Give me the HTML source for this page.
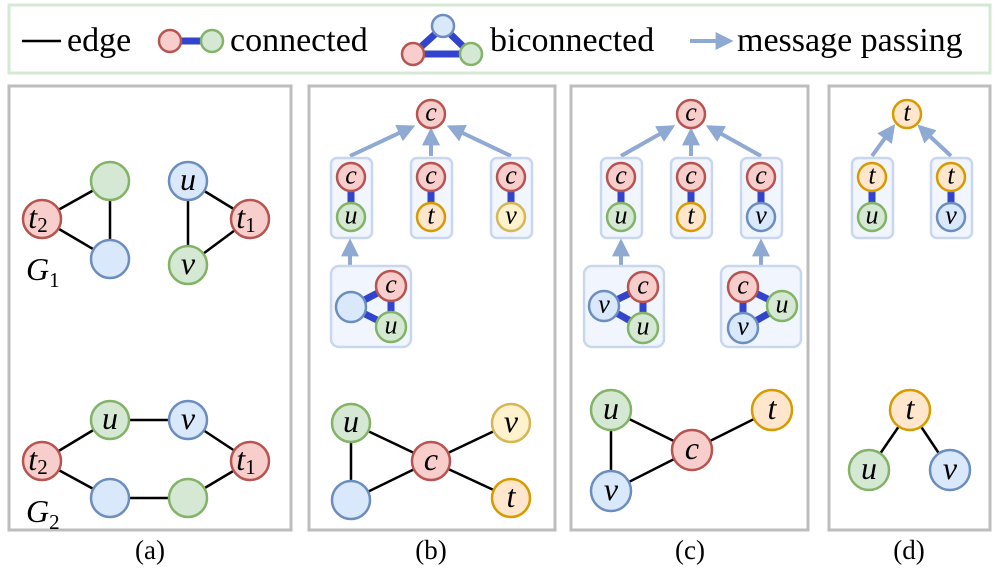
<!DOCTYPE html>
<html><head><meta charset="utf-8"><style>
html,body{margin:0;padding:0;background:#fff}
svg{display:block}
text{font-family:"Liberation Serif",serif}
.m{font-style:italic;text-anchor:middle;dominant-baseline:central}
</style></head><body>
<svg width="997" height="573" viewBox="0 0 997 573" xmlns="http://www.w3.org/2000/svg">
<defs>
<marker id="ah" viewBox="0 0 10 10" refX="8" refY="5" markerWidth="4.5" markerHeight="4.5" orient="auto" markerUnits="strokeWidth">
<path d="M0,0 L10,5 L0,10 z" fill="#8ea9d2"/></marker>
</defs>
<style>
.r{fill:#f8cecc;stroke:#b85450;stroke-width:2.5}
.g{fill:#d5e8d4;stroke:#82b366;stroke-width:2.5}
.b{fill:#dae8fc;stroke:#6c8ebf;stroke-width:2.5}
.o{fill:#ffe6cc;stroke:#d79b00;stroke-width:2.5}
.y{fill:#fff2cc;stroke:#d6b656;stroke-width:2.5}
.e{stroke:#000;stroke-width:2.5}
.be{stroke:#3344cc;stroke-width:7}
.ar{stroke:#8ea9d2;stroke-width:4;marker-end:url(#ah)}
.bx{fill:#f1f5fd;stroke:#c9d7ee;stroke-width:2.5}
.pn{fill:none;stroke:#bdbdbd;stroke-width:3}
</style>
<!-- legend -->
<rect x="9" y="5" width="981" height="68" fill="#fff" stroke="#d5e8d4" stroke-width="3"/>
<line x1="22" y1="41" x2="61" y2="41" class="e"/>
<text x="67" y="51" font-size="34">edge</text>
<line x1="170" y1="41" x2="212" y2="41" class="be"/>
<circle cx="170" cy="41" r="11" class="r"/><circle cx="212" cy="41" r="11" class="g"/>
<text x="230" y="51" font-size="34">connected</text>
<line x1="443" y1="27" x2="413" y2="54" class="be"/><line x1="443" y1="27" x2="471" y2="54" class="be"/><line x1="413" y1="54" x2="471" y2="54" class="be"/>
<circle cx="443" cy="26" r="11" class="b"/><circle cx="413" cy="54" r="11" class="r"/><circle cx="471" cy="54" r="11" class="g"/>
<text x="490" y="51" font-size="34">biconnected</text>
<line x1="690" y1="41" x2="730" y2="41" class="ar"/>
<text x="737" y="51" font-size="34">message passing</text>

<!-- panels -->
<rect x="9" y="86" width="282" height="444" class="pn"/>
<rect x="309" y="86" width="246" height="444" class="pn"/>
<rect x="571" y="86" width="237" height="444" class="pn"/>
<rect x="829" y="86" width="161" height="444" class="pn"/>
<text x="150" y="559" font-size="27" text-anchor="middle">(a)</text>
<text x="431" y="559" font-size="27" text-anchor="middle">(b)</text>
<text x="690" y="559" font-size="27" text-anchor="middle">(c)</text>
<text x="909" y="559" font-size="27" text-anchor="middle">(d)</text>

<!-- panel a -->
<g font-size="32">
<line x1="42" y1="219" x2="110" y2="181" class="e"/><line x1="42" y1="219" x2="110" y2="259" class="e"/><line x1="110" y1="181" x2="110" y2="259" class="e"/>
<line x1="188" y1="181" x2="250" y2="219" class="e"/><line x1="250" y1="219" x2="188" y2="265" class="e"/><line x1="188" y1="181" x2="188" y2="265" class="e"/>
<circle cx="42" cy="219" r="19" class="r"/><circle cx="110" cy="181" r="19" class="g"/><circle cx="110" cy="259" r="19" class="b"/>
<circle cx="188" cy="181" r="19" class="b"/><circle cx="250" cy="219" r="19" class="r"/><circle cx="188" cy="265" r="19" class="g"/>
<text x="38" y="217" class="m">t<tspan font-size="21" font-style="normal" dy="8">2</tspan></text>
<text x="188" y="179" class="m">u</text><text x="188" y="263" class="m">v</text>
<text x="246" y="217" class="m">t<tspan font-size="21" font-style="normal" dy="8">1</tspan></text>
<text x="26" y="280" font-size="32" font-style="italic">G<tspan font-size="21" font-style="normal" dy="7">1</tspan></text>

<line x1="42" y1="461" x2="110" y2="420" class="e"/><line x1="110" y1="420" x2="188" y2="420" class="e"/><line x1="188" y1="420" x2="250" y2="461" class="e"/>
<line x1="42" y1="461" x2="110" y2="498" class="e"/><line x1="110" y1="498" x2="188" y2="498" class="e"/><line x1="188" y1="498" x2="250" y2="461" class="e"/>
<circle cx="110" cy="420" r="19" class="g"/><circle cx="188" cy="420" r="19" class="b"/><circle cx="42" cy="461" r="19" class="r"/>
<circle cx="250" cy="461" r="19" class="r"/><circle cx="110" cy="498" r="19" class="b"/><circle cx="188" cy="498" r="19" class="g"/>
<text x="110" y="418" class="m">u</text><text x="188" y="418" class="m">v</text>
<text x="38" y="459" class="m">t<tspan font-size="21" font-style="normal" dy="8">2</tspan></text>
<text x="246" y="459" class="m">t<tspan font-size="21" font-style="normal" dy="8">1</tspan></text>
<text x="26" y="522" font-size="32" font-style="italic">G<tspan font-size="21" font-style="normal" dy="7">2</tspan></text>
</g>

<!-- panel b -->
<g font-size="26">
<line x1="350" y1="156" x2="412" y2="127" class="ar"/><line x1="431" y1="156" x2="431" y2="131" class="ar"/><line x1="511" y1="156" x2="450" y2="127" class="ar"/>
<circle cx="431" cy="114" r="14" class="r"/><text x="431" y="112" class="m">c</text>
<rect x="331" y="158" width="41" height="80" rx="6" class="bx"/>
<rect x="411" y="158" width="41" height="80" rx="6" class="bx"/>
<rect x="491" y="158" width="41" height="80" rx="6" class="bx"/>
<line x1="351" y1="177" x2="351" y2="217" class="be"/><line x1="431" y1="177" x2="431" y2="217" class="be"/><line x1="511" y1="177" x2="511" y2="217" class="be"/>
<circle cx="351" cy="177" r="14" class="r"/><circle cx="351" cy="217" r="14" class="g"/>
<circle cx="431" cy="177" r="14" class="r"/><circle cx="431" cy="217" r="14" class="o"/>
<circle cx="511" cy="177" r="14" class="r"/><circle cx="511" cy="217" r="14" class="y"/>
<text x="351" y="175" class="m">c</text><text x="351" y="215" class="m">u</text>
<text x="431" y="175" class="m">c</text><text x="431" y="215" class="m">t</text>
<text x="511" y="175" class="m">c</text><text x="511" y="215" class="m">v</text>
<line x1="350" y1="265" x2="350" y2="242" class="ar"/>
<rect x="331" y="266" width="80" height="81" rx="8" class="bx"/>
<line x1="351" y1="307" x2="391" y2="286" class="be"/><line x1="351" y1="307" x2="391" y2="327" class="be"/><line x1="391" y1="286" x2="391" y2="327" class="be"/>
<circle cx="351" cy="307" r="15" class="b"/><circle cx="391" cy="286" r="15" class="r"/><circle cx="391" cy="327" r="15" class="g"/>
<text x="391" y="284" class="m">c</text><text x="391" y="325" class="m">u</text>
</g>
<g font-size="32">
<line x1="351" y1="423" x2="351" y2="500" class="e"/><line x1="351" y1="423" x2="431" y2="461" class="e"/><line x1="351" y1="500" x2="431" y2="461" class="e"/>
<line x1="431" y1="461" x2="511" y2="423" class="e"/><line x1="431" y1="461" x2="511" y2="498" class="e"/>
<circle cx="351" cy="423" r="19" class="g"/><circle cx="351" cy="500" r="19" class="b"/><circle cx="431" cy="461" r="19" class="r"/>
<circle cx="511" cy="423" r="19" class="y"/><circle cx="511" cy="498" r="19" class="o"/>
<text x="351" y="421" class="m">u</text><text x="431" y="459" class="m">c</text><text x="511" y="421" class="m">v</text><text x="511" y="496" class="m">t</text>
</g>

<!-- panel c -->
<g font-size="26">
<line x1="621" y1="156" x2="672" y2="127" class="ar"/><line x1="691" y1="156" x2="691" y2="131" class="ar"/><line x1="761" y1="156" x2="709" y2="127" class="ar"/>
<circle cx="691" cy="114" r="14" class="r"/><text x="691" y="112" class="m">c</text>
<rect x="601" y="158" width="41" height="80" rx="6" class="bx"/>
<rect x="671" y="158" width="41" height="80" rx="6" class="bx"/>
<rect x="741" y="158" width="41" height="80" rx="6" class="bx"/>
<line x1="621" y1="177" x2="621" y2="217" class="be"/><line x1="691" y1="177" x2="691" y2="217" class="be"/><line x1="761" y1="177" x2="761" y2="217" class="be"/>
<circle cx="621" cy="177" r="14" class="r"/><circle cx="621" cy="217" r="14" class="g"/>
<circle cx="691" cy="177" r="14" class="r"/><circle cx="691" cy="217" r="14" class="o"/>
<circle cx="761" cy="177" r="14" class="r"/><circle cx="761" cy="217" r="14" class="b"/>
<text x="621" y="175" class="m">c</text><text x="621" y="215" class="m">u</text>
<text x="691" y="175" class="m">c</text><text x="691" y="215" class="m">t</text>
<text x="761" y="175" class="m">c</text><text x="761" y="215" class="m">v</text>
<line x1="621" y1="265" x2="621" y2="242" class="ar"/><line x1="761" y1="265" x2="761" y2="242" class="ar"/>
<rect x="584" y="266" width="80" height="81" rx="8" class="bx"/>
<rect x="721" y="266" width="80" height="81" rx="8" class="bx"/>
<line x1="604" y1="306" x2="643" y2="287" class="be"/><line x1="604" y1="306" x2="643" y2="328" class="be"/><line x1="643" y1="287" x2="643" y2="328" class="be"/>
<circle cx="604" cy="306" r="15" class="b"/><circle cx="643" cy="287" r="15" class="r"/><circle cx="643" cy="328" r="15" class="g"/>
<text x="604" y="304" class="m">v</text><text x="643" y="285" class="m">c</text><text x="643" y="326" class="m">u</text>
<line x1="743" y1="287" x2="782" y2="306" class="be"/><line x1="743" y1="328" x2="782" y2="306" class="be"/><line x1="743" y1="287" x2="743" y2="328" class="be"/>
<circle cx="743" cy="287" r="15" class="r"/><circle cx="782" cy="306" r="15" class="g"/><circle cx="743" cy="328" r="15" class="b"/>
<text x="743" y="285" class="m">c</text><text x="782" y="304" class="m">u</text><text x="743" y="326" class="m">v</text>
</g>
<g font-size="32">
<line x1="611" y1="410" x2="611" y2="491" class="e"/><line x1="611" y1="410" x2="692" y2="450" class="e"/><line x1="611" y1="491" x2="692" y2="450" class="e"/><line x1="692" y1="450" x2="772" y2="410" class="e"/>
<circle cx="611" cy="410" r="20" class="g"/><circle cx="611" cy="491" r="20" class="b"/><circle cx="692" cy="450" r="20" class="r"/><circle cx="772" cy="410" r="20" class="o"/>
<text x="611" y="408" class="m">u</text><text x="611" y="489" class="m">v</text><text x="692" y="448" class="m">c</text><text x="772" y="408" class="m">t</text>
</g>

<!-- panel d -->
<g font-size="26">
<line x1="872" y1="156" x2="893" y2="127" class="ar"/><line x1="951" y1="156" x2="920" y2="127" class="ar"/>
<circle cx="907" cy="114" r="14" class="o"/><text x="907" y="112" class="m">t</text>
<rect x="852" y="158" width="41" height="80" rx="6" class="bx"/>
<rect x="931" y="158" width="41" height="80" rx="6" class="bx"/>
<line x1="872" y1="177" x2="872" y2="217" class="be"/><line x1="951" y1="177" x2="951" y2="217" class="be"/>
<circle cx="872" cy="177" r="14" class="o"/><circle cx="872" cy="217" r="14" class="g"/>
<circle cx="951" cy="177" r="14" class="o"/><circle cx="951" cy="217" r="14" class="b"/>
<text x="872" y="175" class="m">t</text><text x="872" y="215" class="m">u</text>
<text x="951" y="175" class="m">t</text><text x="951" y="215" class="m">v</text>
</g>
<g font-size="32">
<line x1="910" y1="410" x2="869" y2="470" class="e"/><line x1="910" y1="410" x2="950" y2="470" class="e"/>
<circle cx="910" cy="410" r="20" class="o"/><circle cx="869" cy="470" r="20" class="g"/><circle cx="950" cy="470" r="20" class="b"/>
<text x="910" y="408" class="m">t</text><text x="869" y="468" class="m">u</text><text x="950" y="468" class="m">v</text>
</g>
</svg>
</body></html>
